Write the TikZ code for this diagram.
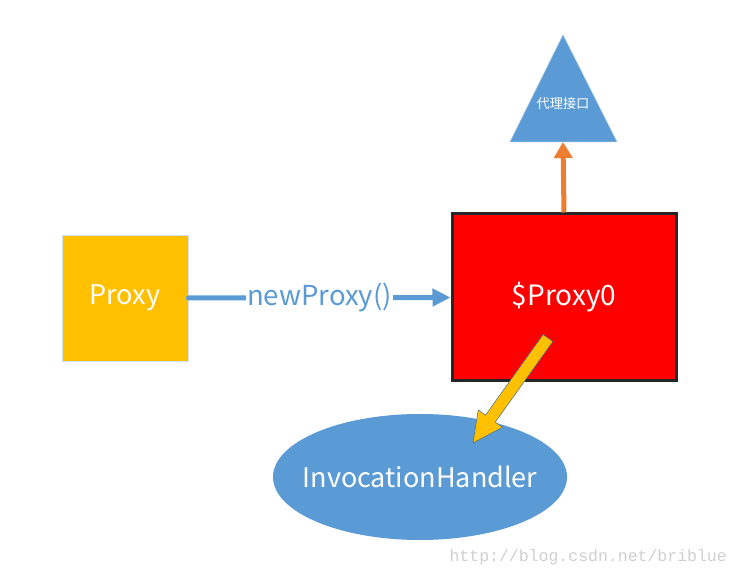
\documentclass[tikz,border=0pt]{standalone}
\usepackage{fontspec}
\setmainfont{Noto Sans CJK SC}
\newfontfamily\wmfont{Liberation Mono}
\usetikzlibrary{shapes.geometric,arrows.meta,calc}
\definecolor{pblue}{HTML}{5B9BD5}
\definecolor{pgold}{HTML}{FFC000}
\definecolor{porange}{HTML}{ED7D31}
\definecolor{pdark}{HTML}{262626}
\definecolor{pwm}{HTML}{CFCFCF}
\begin{document}
\begin{tikzpicture}[x=1pt,y=-1pt,
  lbl/.style={text=white,font=\fontsize{27}{30}\selectfont},
  conn/.style={line width=5pt,-{Triangle[length=18pt,width=17pt]}}]
\useasboundingbox (0,0) rectangle (737,577);
\node[fill=pgold,draw=pblue!30,line width=0.8pt,minimum width=126pt,minimum height=126pt,inner sep=0pt,lbl] (proxy) at (125,298) {Proxy};
\node[fill=red,draw=pdark,line width=3pt,minimum width=224pt,minimum height=167pt,inner sep=0pt,lbl,font=\fontsize{28}{30}\selectfont] (p0) at (564,297.5) {\$Proxy0};
\coordinate (tapex) at (563,35);
\coordinate (tbl) at (510,142);
\coordinate (tbr) at (617,142);
\coordinate (tbase) at (563,142);
\fill[pblue,draw=pblue!60!white,line width=0.5pt] (tapex) -- (tbr) -- (tbl) -- cycle;
\node[text=white,font=\fontsize{13.2}{15}\selectfont] (tril) at (563,104) {代理接口};
\node[ellipse,fill=pblue,minimum width=294pt,minimum height=126pt,inner sep=0pt] (ih) at (420,477) {};
\node[lbl] (ihl) at (ih.center) {InvocationHandler};
\draw[conn,draw=pblue,line cap=round] (proxy.east) -- node[fill=white,inner sep=1pt,text=pblue,font=\fontsize{27.5}{30}\selectfont] (np) {newProxy()} (p0.west);
\draw[conn,draw=porange,-{Triangle[length=16pt,width=18pt]}] (p0.north) -- (tbase);
\coordinate (A) at (548,338);
\coordinate (B) at (473,443);
\coordinate (H) at ($(B)!30pt!(A)$);
\fill[pgold,draw=pblue!70!black,line width=0.5pt,line join=miter]
  ($(A)!6pt!90:(B)$) -- ($(H)!6pt!90:(B)$) -- ($(H)!15pt!90:(B)$) -- (B) --
  ($(H)!15pt!-90:(B)$) -- ($(H)!6pt!-90:(B)$) -- ($(A)!6pt!-90:(B)$) -- cycle;
\node[anchor=east,text=pwm,font=\wmfont\fontsize{16.5}{18}\selectfont,inner sep=0pt] (wm) at (727,557) {http://blog.csdn.net/briblue};
\end{tikzpicture}
\end{document}
